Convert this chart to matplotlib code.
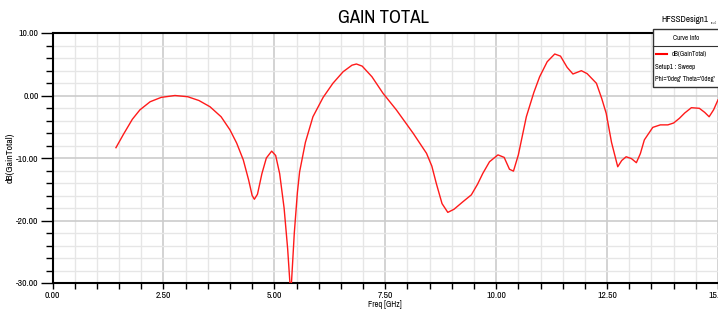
import matplotlib
matplotlib.use('Agg')
import matplotlib.pyplot as plt
import matplotlib.patches as patches
from matplotlib import font_manager
from matplotlib.ticker import MultipleLocator, FormatStrFormatter

# Curve data
freq = [1.43, 1.6, 1.8, 1.97, 2.2, 2.45, 2.76, 3.05, 3.3, 3.55, 3.8, 4.0, 4.15,
        4.30, 4.42, 4.50, 4.55, 4.62, 4.72, 4.82, 4.94, 5.03, 5.12, 5.22, 5.30,
        5.37, 5.45, 5.52, 5.57, 5.7, 5.87, 6.1, 6.32, 6.55, 6.75, 6.85, 6.98,
        7.2, 7.45, 7.75, 8.13, 8.43, 8.55, 8.65, 8.78, 8.91, 9.05, 9.25, 9.44,
        9.58, 9.70, 9.85, 10.04, 10.18, 10.30, 10.39, 10.5, 10.68, 10.85, 10.98,
        11.15, 11.32, 11.45, 11.6, 11.73, 11.92, 12.05, 12.26, 12.38, 12.48,
        12.6, 12.74, 12.83, 12.93, 13.05, 13.16, 13.25, 13.34, 13.53, 13.7,
        13.87, 14.0, 14.13, 14.25, 14.4, 14.58, 14.7, 14.8, 14.9, 15.0]
gain_db = [-8.35, -6.2, -3.8, -2.3, -1.0, -0.3, 0.0, -0.2, -0.8, -1.8, -3.4,
           -5.5, -7.6, -10.3, -13.5, -16.0, -16.6, -15.8, -12.5, -10.0, -8.9,
           -9.6, -12.5, -18.0, -24.5, -32.0, -22.0, -15.5, -12.2, -7.5, -3.4,
           -0.3, 1.95, 3.8, 4.85, 5.04, 4.7, 3.0, 0.35, -2.3, -6.05, -9.25,
           -11.3, -14.05, -17.3, -18.7, -18.2, -17.0, -15.9, -14.2, -12.45,
           -10.6, -9.5, -9.9, -11.8, -12.1, -9.5, -3.4, 0.5, 3.0, 5.4, 6.64,
           6.3, 4.5, 3.44, 3.97, 3.5, 1.95, -0.5, -2.85, -7.5, -11.4, -10.4,
           -9.8, -10.1, -10.75, -9.3, -7.1, -5.1, -4.7, -4.7, -4.4, -3.65, -2.8,
           -1.95, -2.05, -2.7, -3.4, -2.3, -0.7]

x_limits = [0, 15]
y_limits = [-30, 10]

# prefer a narrow face if one happens to be installed
narrow = 'Liberation Sans'
for f in font_manager.fontManager.ttflist:
    if 'Narrow' in f.name or 'Condensed' in f.name:
        narrow = f.name
        break
plt.rcParams['font.family'] = [narrow, 'DejaVu Sans']


def main():
    fig = plt.figure(figsize=(7.18, 3.11), dpi=100)
    ax = fig.add_axes([52.5 / 718, 28 / 311, 665.5 / 718, 250 / 311])

    ax.plot(freq, gain_db, color='#ff1a1a', linewidth=1.0, zorder=3)

    ax.set_xlim(x_limits)
    ax.set_ylim(y_limits)

    ax.xaxis.set_major_locator(MultipleLocator(2.5))
    ax.xaxis.set_minor_locator(MultipleLocator(0.5))
    ax.yaxis.set_major_locator(MultipleLocator(10))
    ax.yaxis.set_minor_locator(MultipleLocator(2))
    ax.xaxis.set_major_formatter(FormatStrFormatter('%.2f'))
    ax.yaxis.set_major_formatter(FormatStrFormatter('%.2f'))

    ax.grid(which='major', color='#cccccc', linewidth=1.2, zorder=0)
    ax.grid(which='minor', color='#e6e6e6', linewidth=1.0, zorder=0)
    ax.set_axisbelow(True)

    ax.tick_params(axis='both', which='major', direction='out', length=9,
                   width=1.0, labelsize=7, colors='black', pad=1)
    ax.tick_params(axis='x', which='major', length=4, pad=2)
    ax.tick_params(axis='both', which='minor', direction='out', length=5,
                   width=1.0)
    ax.tick_params(axis='x', which='minor', length=4)

    for side in ['left', 'bottom', 'top']:
        ax.spines[side].set_color('black')
        ax.spines[side].set_linewidth(1.5)
    ax.spines['right'].set_visible(False)

    ax.set_xlabel('Freq [GHz]', fontsize=6, labelpad=0)
    ax.set_ylabel('dB(GainTotal)', fontsize=7)
    ax.xaxis.set_label_coords((385 - 52.5) / 665.5, -17 / 250)
    ax.yaxis.set_label_coords(-(52.5 - 15) / 665.5, 0.5)

    fig.text(383 / 718, 1 - 18 / 311, 'GAIN TOTAL', fontsize=13.5,
             ha='center', va='center')
    fig.text(685 / 718, 1 - 19 / 311, 'HFSSDesign1', fontsize=6.5,
             ha='center', va='center')
    fig.text(714 / 718, 1 - 23 / 311, 'ansoft', fontsize=2,
             ha='center', va='center', color='#555555')

    # Curve info box
    box = patches.Rectangle((653 / 718, 1 - 87 / 311), 70 / 718, 58 / 311,
                            transform=fig.transFigure, facecolor='white',
                            edgecolor='#333333', linewidth=1.0, zorder=5)
    fig.patches.append(box)
    fig.add_artist(plt.Line2D([653 / 718, 1], [1 - 46 / 311, 1 - 46 / 311],
                              transform=fig.transFigure, color='#333333',
                              linewidth=0.8, zorder=6))
    fig.text(686 / 718, 1 - 38 / 311, 'Curve Info', fontsize=5,
             ha='center', va='center', zorder=7)
    fig.add_artist(plt.Line2D([656 / 718, 667 / 718], [1 - 54 / 311, 1 - 54 / 311],
                              transform=fig.transFigure, color='#ff0000',
                              linewidth=1.5, zorder=7))
    fig.text(672 / 718, 1 - 54 / 311, 'dB(GainTotal)', fontsize=4.9,
             ha='left', va='center', zorder=7)
    fig.text(655 / 718, 1 - 67 / 311, 'Setup1 : Sweep', fontsize=5.1,
             ha='left', va='center', zorder=7)
    fig.text(655 / 718, 1 - 79 / 311, "Phi='0deg' Theta='0deg'", fontsize=4.9,
             ha='left', va='center', zorder=7)

    fig.savefig('out.png', dpi=100)
    plt.close(fig)


if __name__ == '__main__':
    main()
